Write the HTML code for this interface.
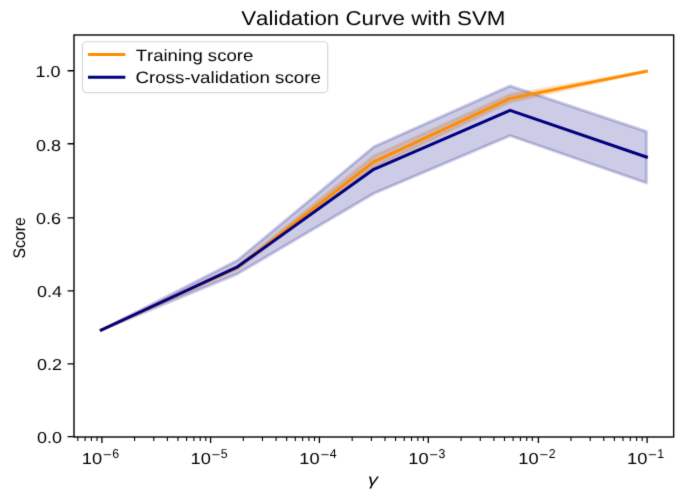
<!DOCTYPE html>
<html><head><meta charset="utf-8"><title>Validation Curve with SVM</title><style>
html,body{margin:0;padding:0;background:#fff;width:685px;height:501px;overflow:hidden;}
svg{display:block;}
text{font-family:"Liberation Sans",sans-serif;font-kerning:none;text-rendering:geometricPrecision;fill:#000;}
</style></head><body>
<svg width="685" height="501" viewBox="0 0 685 501">
<defs><filter id="soft" color-interpolation-filters="sRGB" x="0" y="0" width="685" height="501" filterUnits="userSpaceOnUse"><feConvolveMatrix order="3" kernelMatrix="0.0114 0.0842 0.0114 0.0842 0.6176 0.0842 0.0114 0.0842 0.0114" edgeMode="duplicate"/></filter></defs>
<g filter="url(#soft)">
<rect x="0" y="0" width="685" height="501" fill="#fff"/>
<path d="M101.26,330.00 L237.54,265.80 L373.82,156.00 L510.11,94.60 L646.39,71.20 L646.39,71.20 L510.11,102.00 L373.82,167.20 L237.54,268.80 L101.26,330.00 Z" fill="#ff8c00" fill-opacity="0.2" stroke="#ff8c00" stroke-opacity="0.2" stroke-width="3" stroke-linejoin="round"/>
<path d="M101.26,330.00 L237.54,260.30 L373.82,146.80 L510.11,85.90 L646.39,131.50 L646.39,182.90 L510.11,135.70 L373.82,193.40 L237.54,273.75 L101.26,330.00 Z" fill="#000080" fill-opacity="0.2" stroke="#000080" stroke-opacity="0.2" stroke-width="3" stroke-linejoin="round"/>
<polyline points="101.26,330.00 237.54,267.30 373.82,161.80 510.11,98.40 646.39,71.20" fill="none" stroke="#ff8c00" stroke-width="3" stroke-linejoin="round" stroke-linecap="square"/>
<polyline points="101.26,330.00 237.54,266.80 373.82,169.30 510.11,110.30 646.39,157.00" fill="none" stroke="#000080" stroke-width="3" stroke-linejoin="round" stroke-linecap="square"/>
<path d="M74.00,436.60H67.60 M74.00,363.80H67.60 M74.00,290.80H67.60 M74.00,217.80H67.60 M74.00,143.75H67.60 M74.00,70.75H67.60 M101.93,437.00V443.00 M210.58,437.00V443.00 M319.40,437.00V443.00 M428.30,437.00V443.00 M538.40,437.00V443.00 M647.10,437.00V443.00" stroke="#000" stroke-width="1.3" fill="none"/>
<path d="M77.80,437.00V441.00 M85.10,437.00V441.00 M91.42,437.00V441.00 M97.00,437.00V441.00 M134.58,437.00V441.00 M153.78,437.00V441.00 M167.40,437.00V441.00 M177.96,437.00V441.00 M186.60,437.00V441.00 M193.90,437.00V441.00 M200.22,437.00V441.00 M205.80,437.00V441.00 M243.28,437.00V441.00 M262.48,437.00V441.00 M276.11,437.00V441.00 M286.67,437.00V441.00 M295.30,437.00V441.00 M302.60,437.00V441.00 M308.93,437.00V441.00 M314.50,437.00V441.00 M352.19,437.00V441.00 M371.39,437.00V441.00 M385.01,437.00V441.00 M395.58,437.00V441.00 M404.21,437.00V441.00 M411.51,437.00V441.00 M417.83,437.00V441.00 M423.41,437.00V441.00 M461.09,437.00V441.00 M480.29,437.00V441.00 M493.91,437.00V441.00 M504.48,437.00V441.00 M513.11,437.00V441.00 M520.41,437.00V441.00 M526.73,437.00V441.00 M532.31,437.00V441.00 M570.99,437.00V441.00 M590.19,437.00V441.00 M603.81,437.00V441.00 M614.37,437.00V441.00 M623.01,437.00V441.00 M630.30,437.00V441.00 M636.63,437.00V441.00 M642.20,437.00V441.00" stroke="#000" stroke-width="1.1" fill="none"/>
<rect x="74.00" y="35.00" width="599.65" height="402.00" fill="none" stroke="#000" stroke-width="1.4" stroke-linejoin="miter"/>
<text x="241.23" y="25.10" font-size="20.00" textLength="264.24" lengthAdjust="spacingAndGlyphs">Validation Curve with SVM</text>
<text x="37.04" y="442.77" font-size="15.80" textLength="25.00" lengthAdjust="spacingAndGlyphs">0.0</text>
<text x="37.05" y="369.77" font-size="15.80" textLength="25.00" lengthAdjust="spacingAndGlyphs">0.2</text>
<text x="36.98" y="296.77" font-size="15.80" textLength="25.00" lengthAdjust="spacingAndGlyphs">0.4</text>
<text x="36.05" y="223.77" font-size="15.80" textLength="25.00" lengthAdjust="spacingAndGlyphs">0.6</text>
<text x="36.00" y="150.77" font-size="15.80" textLength="25.00" lengthAdjust="spacingAndGlyphs">0.8</text>
<text x="35.63" y="76.57" font-size="15.80" textLength="25.00" lengthAdjust="spacingAndGlyphs">1.0</text>
<text x="81.88" y="463.70" font-size="15.85" textLength="20.35" lengthAdjust="spacingAndGlyphs">10</text>
<text x="102.93" y="459.00" font-size="12.90" textLength="8.83" lengthAdjust="spacingAndGlyphs">−</text>
<text x="112.17" y="458.25" font-size="12.90" textLength="6.87" lengthAdjust="spacingAndGlyphs">6</text>
<text x="190.53" y="463.70" font-size="15.85" textLength="20.35" lengthAdjust="spacingAndGlyphs">10</text>
<text x="211.58" y="459.00" font-size="12.90" textLength="8.83" lengthAdjust="spacingAndGlyphs">−</text>
<text x="220.82" y="458.25" font-size="12.90" textLength="6.87" lengthAdjust="spacingAndGlyphs">5</text>
<text x="299.35" y="463.70" font-size="15.85" textLength="20.35" lengthAdjust="spacingAndGlyphs">10</text>
<text x="320.40" y="459.00" font-size="12.90" textLength="8.83" lengthAdjust="spacingAndGlyphs">−</text>
<text x="329.64" y="458.25" font-size="12.90" textLength="6.87" lengthAdjust="spacingAndGlyphs">4</text>
<text x="408.25" y="463.70" font-size="15.85" textLength="20.35" lengthAdjust="spacingAndGlyphs">10</text>
<text x="429.30" y="459.00" font-size="12.90" textLength="8.83" lengthAdjust="spacingAndGlyphs">−</text>
<text x="438.54" y="458.25" font-size="12.90" textLength="6.87" lengthAdjust="spacingAndGlyphs">3</text>
<text x="518.35" y="463.70" font-size="15.85" textLength="20.35" lengthAdjust="spacingAndGlyphs">10</text>
<text x="539.40" y="459.00" font-size="12.90" textLength="8.83" lengthAdjust="spacingAndGlyphs">−</text>
<text x="548.64" y="458.25" font-size="12.90" textLength="6.87" lengthAdjust="spacingAndGlyphs">2</text>
<text x="627.05" y="463.70" font-size="15.85" textLength="20.35" lengthAdjust="spacingAndGlyphs">10</text>
<text x="648.10" y="459.00" font-size="12.90" textLength="8.83" lengthAdjust="spacingAndGlyphs">−</text>
<text x="657.34" y="458.25" font-size="12.90" textLength="6.87" lengthAdjust="spacingAndGlyphs">1</text>
<text transform="translate(24.58,258.60) rotate(-90)" font-size="16.76" textLength="41.33" lengthAdjust="spacingAndGlyphs">Score</text>
<text x="368.14" y="485.20" font-size="16.30" textLength="10.05" lengthAdjust="spacingAndGlyphs" font-style="italic">γ</text>
<rect x="82.45" y="41.75" width="245.25" height="50.85" rx="4" ry="4" fill="#fff" fill-opacity="0.8" stroke="#cccccc" stroke-opacity="0.8" stroke-width="1.2"/>
<path d="M88,54.4H125.3" stroke="#ff8c00" stroke-width="3"/>
<path d="M88,77.3H125.3" stroke="#000080" stroke-width="3"/>
<text x="135.65" y="60.85" font-size="16.40" textLength="117.63" lengthAdjust="spacingAndGlyphs">Training score</text>
<text x="135.49" y="83.30" font-size="16.40" textLength="185.48" lengthAdjust="spacingAndGlyphs">Cross-validation score</text>
</g>
</svg></body></html>
